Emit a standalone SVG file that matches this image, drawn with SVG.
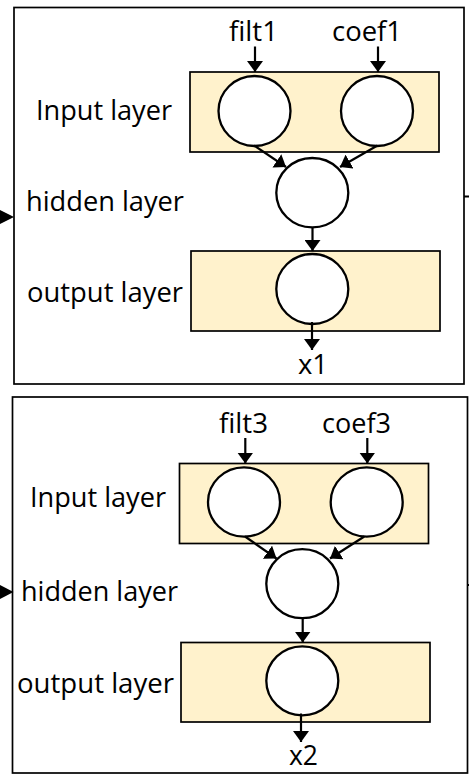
<svg xmlns="http://www.w3.org/2000/svg" width="469" height="774" viewBox="0 0 469 774">
<style>
.frame{fill:#ffffff;stroke:#000;stroke-width:1.7}
.layer{fill:#fff2cc;stroke:#000;stroke-width:1.7}
.node{fill:#ffffff;stroke:#000;stroke-width:2.3}
.lbl{font-family:"Open Sans","Liberation Sans",sans-serif;font-size:27px;fill:#000}
.conn{stroke:#000;stroke-width:2.2;fill:none;marker-end:url(#ah)}
.plain{stroke:#000;stroke-width:2;fill:none}
</style>
<defs>
<marker id="ah" markerUnits="userSpaceOnUse" markerWidth="12" markerHeight="16" refX="11" refY="8" orient="auto" viewBox="0 0 12 16">
<path d="M0,0 L11,8 L0,16 z" fill="#000"/>
</marker>
</defs>
<rect width="469" height="774" fill="#ffffff"/>

<!-- Panel 1 -->
<g id="panel1">
<rect class="frame" x="14" y="7.5" width="450" height="376.5"/>
</g>
<g id="p1-input-layer">
<rect class="layer" x="190" y="72" width="249" height="80"/>
<text class="lbl" x="36" y="120" textLength="136" lengthAdjust="spacingAndGlyphs">Input layer</text>
</g>
<g id="p1-hidden-label">
<text class="lbl" x="26" y="211" textLength="158" lengthAdjust="spacingAndGlyphs">hidden layer</text>
</g>
<g id="p1-output-layer">
<rect class="layer" x="191" y="251" width="249" height="80"/>
<text class="lbl" x="27" y="302" textLength="156" lengthAdjust="spacingAndGlyphs">output layer</text>
</g>
<g id="p1-in1"><ellipse class="node" cx="254.5" cy="111" rx="36" ry="35"/></g>
<g id="p1-in2"><ellipse class="node" cx="377" cy="111" rx="36" ry="35"/></g>
<g id="p1-hidden"><ellipse class="node" cx="312.3" cy="192.7" rx="36" ry="34.7"/></g>
<g id="p1-out"><ellipse class="node" cx="312.3" cy="289" rx="36" ry="35"/></g>
<g id="p1-filt1"><text class="lbl" x="229" y="41" textLength="49" lengthAdjust="spacingAndGlyphs">filt1</text></g>
<g id="p1-coef1"><text class="lbl" x="332" y="41" textLength="70" lengthAdjust="spacingAndGlyphs">coef1</text></g>
<g id="p1-x1"><text class="lbl" x="298" y="374" textLength="30" lengthAdjust="spacingAndGlyphs">x1</text></g>

<!-- Panel 2 -->
<g id="panel2">
<rect class="frame" x="12.5" y="397" width="455" height="376"/>
</g>
<g id="p2-input-layer">
<rect class="layer" x="179.5" y="463.5" width="249" height="80"/>
<text class="lbl" x="30" y="507" textLength="136" lengthAdjust="spacingAndGlyphs">Input layer</text>
</g>
<g id="p2-hidden-label">
<text class="lbl" x="21" y="601" textLength="157" lengthAdjust="spacingAndGlyphs">hidden layer</text>
</g>
<g id="p2-output-layer">
<rect class="layer" x="181" y="642.5" width="249" height="79.5"/>
<text class="lbl" x="17" y="693" textLength="157" lengthAdjust="spacingAndGlyphs">output layer</text>
</g>
<g id="p2-in1"><ellipse class="node" cx="244" cy="502" rx="36" ry="34.7"/></g>
<g id="p2-in2"><ellipse class="node" cx="366.7" cy="502" rx="36" ry="34.7"/></g>
<g id="p2-hidden"><ellipse class="node" cx="302.3" cy="583.7" rx="36" ry="34.5"/></g>
<g id="p2-out"><ellipse class="node" cx="302.3" cy="680.8" rx="36" ry="34.5"/></g>
<g id="p2-filt3"><text class="lbl" x="219" y="433" textLength="49" lengthAdjust="spacingAndGlyphs">filt3</text></g>
<g id="p2-coef3"><text class="lbl" x="322" y="433" textLength="69" lengthAdjust="spacingAndGlyphs">coef3</text></g>
<g id="p2-x2"><text class="lbl" x="289" y="765" textLength="29" lengthAdjust="spacingAndGlyphs">x2</text></g>

<!-- Connectors -->
<g id="connectors">
<line class="conn" x1="255" y1="46.5" x2="255" y2="72"/>
<line class="conn" x1="378" y1="46.5" x2="378" y2="72"/>
<line class="conn" x1="254" y1="145.5" x2="286" y2="167"/>
<line class="conn" x1="377.5" y1="145.5" x2="340" y2="167"/>
<line class="conn" x1="312.5" y1="227" x2="312.5" y2="251"/>
<line class="conn" x1="312" y1="322" x2="312" y2="350"/>
<path d="M0,210 L14,217 L0,224 z" fill="#000"/>
<line class="plain" x1="464" y1="196.5" x2="469" y2="196.5"/>

<line class="conn" x1="245.3" y1="438" x2="245.3" y2="463.5"/>
<line class="conn" x1="367.3" y1="438" x2="367.3" y2="463.5"/>
<line class="conn" x1="245" y1="536.5" x2="276.5" y2="558.5"/>
<line class="conn" x1="364.3" y1="536.5" x2="330" y2="558.5"/>
<line class="conn" x1="302.7" y1="618" x2="302.7" y2="642.5"/>
<line class="conn" x1="301" y1="713.5" x2="301" y2="742"/>
<path d="M0,585 L13.5,592 L0,599 z" fill="#000"/>
<line class="plain" x1="467" y1="585" x2="469" y2="585"/>
</g>
</svg>
